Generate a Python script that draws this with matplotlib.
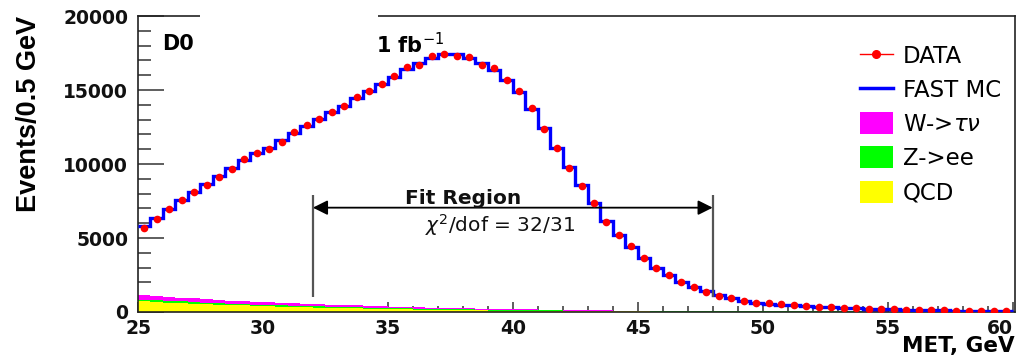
import numpy as np
import matplotlib
matplotlib.use('Agg')
import matplotlib.pyplot as plt
from matplotlib.lines import Line2D
from matplotlib.patches import Patch, Rectangle

# bin edges, MET in GeV, 0.5 GeV bins
edges = np.arange(25.0, 60.01, 0.5)
centers = edges[:-1] + 0.25

data = [5700, 6300, 6980, 7590, 8140, 8610, 9150, 9630, 10370, 10710,
        10980, 11520, 12140, 12610, 13020, 13490, 13900, 14510, 14920, 15390,
        15930, 16540, 16680, 17290, 17420, 17290, 17220, 16680, 16480, 15660,
        14920, 13760, 12340, 11050, 9760, 8540, 7390, 6100, 5220, 4470,
        3660, 2980, 2510, 2030, 1690, 1360, 1080, 950, 750, 640,
        580, 520, 440, 400, 360, 320, 290, 250, 210, 190,
        170, 150, 130, 120, 110, 100, 90, 80, 70, 60]

fast_mc = [5800, 6350, 6950, 7550, 8100, 8650, 9200, 9700, 10250, 10750,
           11100, 11600, 12100, 12600, 13050, 13500, 13950, 14450, 14900, 15400,
           15900, 16400, 16800, 17150, 17400, 17400, 17150, 16800, 16350, 15700,
           14850, 13750, 12450, 11100, 9800, 8550, 7350, 6150, 5200, 4400,
           3650, 3000, 2500, 2050, 1700, 1400, 1120, 930, 760, 640,
           560, 500, 440, 390, 350, 310, 280, 250, 220, 190,
           170, 150, 135, 120, 110, 100, 90, 80, 70, 60]

qcd = [720, 680, 640, 600, 570, 540, 500, 470, 440, 410,
       380, 360, 340, 320, 300, 280, 260, 240, 225, 210,
       195, 180, 165, 150, 140, 130, 120, 110, 100, 90,
       80, 75, 70, 65, 60, 55, 50, 45, 40, 38,
       35, 33, 31, 29, 27, 25, 24, 23, 22, 21,
       20, 19, 18, 17, 16, 15, 14, 13, 12, 12,
       11, 11, 10, 10, 9, 9, 8, 8, 7, 7]

zee = [120, 115, 110, 110, 105, 100, 100, 95, 90, 90,
       85, 85, 80, 80, 75, 75, 70, 70, 65, 65,
       60, 60, 58, 56, 54, 52, 50, 48, 46, 44,
       42, 40, 40, 38, 38, 36, 36, 34, 34, 32,
       32, 30, 30, 30, 28, 28, 28, 26, 26, 26,
       25, 25, 24, 24, 23, 23, 22, 22, 21, 21,
       20, 20, 20, 19, 19, 18, 18, 18, 17, 17]

wtau = [280, 270, 260, 250, 240, 230, 220, 210, 200, 195,
        185, 175, 170, 160, 155, 145, 140, 130, 125, 120,
        110, 105, 100, 95, 90, 85, 80, 75, 70, 65,
        60, 55, 50, 45, 40, 36, 32, 28, 25, 22,
        20, 18, 16, 14, 12, 10, 9, 8, 7, 6,
        5, 5, 4, 4, 3, 3, 3, 2, 2, 2,
        2, 1, 1, 1, 1, 1, 1, 1, 1, 1]

fit_lo, fit_hi = 32.0, 48.0
fit_arrow_y = 7050
fit_line_lo, fit_line_hi = 1000, 7900

plt.rcParams['font.family'] = ['DejaVu Sans']

fig = plt.figure(figsize=(10.2, 3.63), dpi=100)
ax = fig.add_axes([0.1353, 0.1405, 0.9951 - 0.1353, 0.9559 - 0.1405])

# stacked backgrounds
qcd = np.array(qcd, dtype=float)
zee = np.array(zee, dtype=float)
wtau = np.array(wtau, dtype=float)
ax.stairs(qcd, edges, baseline=0, fill=True, color='#ffff00', zorder=2)
ax.stairs(qcd + zee, edges, baseline=qcd, fill=True, color='#00ff00', zorder=2)
ax.stairs(qcd + zee + wtau, edges, baseline=qcd + zee, fill=True, color='#ff00ff', zorder=2)

# fast MC and data
ax.stairs(fast_mc, edges, baseline=None, color='#0000ff', lw=2.4, zorder=3)
ax.plot(centers, data, 'o', color='#ff0000', ms=5.5, mec='none', zorder=4)

# fit region
ax.vlines([fit_lo, fit_hi], fit_line_lo, fit_line_hi, color='#555555', lw=1.6, zorder=3)
ax.annotate('', xy=(fit_lo, fit_arrow_y), xytext=(fit_hi, fit_arrow_y),
            arrowprops=dict(arrowstyle='<|-|>', color='black', lw=1.3,
                            mutation_scale=22, shrinkA=0, shrinkB=0), zorder=3)
ax.text(38.0, 7700, 'Fit Region', fontsize=14.5, fontweight='bold',
        ha='center', va='center', color='#111111')
ax.text(39.5, 5850, r'$\chi^2$/dof = 32/31', fontsize=14.5,
        ha='center', va='center', color='#111111')

ax.set_xlim(25, 60.1)
ax.set_ylim(0, 20000)
ax.set_xticks([25, 30, 35, 40, 45, 50, 55, 60])
ax.set_xticks(np.arange(25, 61, 1), minor=True)
ax.set_yticks([0, 5000, 10000, 15000, 20000])
ax.set_yticks(np.arange(0, 20001, 1000), minor=True)
ax.tick_params(axis='both', which='both', direction='in', colors='#333333', width=1.1,
               labelcolor='#111111')
ax.tick_params(axis='y', which='major', length=19, pad=7, labelsize=13.5)
ax.tick_params(axis='y', which='minor', length=9.5)
ax.tick_params(axis='x', which='major', length=7, pad=5, labelsize=13.5)
ax.tick_params(axis='x', which='minor', length=4)
for lab in ax.get_xticklabels() + ax.get_yticklabels():
    lab.set_fontweight('bold')
ax.get_xticklabels()[-1].set_ha('right')
for sp in ax.spines.values():
    sp.set_color('#222222')
    sp.set_linewidth(1.2)

ax.set_ylabel('Events/0.5 GeV', fontsize=19.5, fontweight='bold',
              family='Liberation Sans')
ax.yaxis.set_label_coords(-0.109, 0.67)
ax.set_xlabel('MET, GeV', fontsize=15.5, fontweight='bold')
ax.xaxis.set_label_coords(1.0, -0.115)
ax.xaxis.label.set_ha('right')
ax.xaxis.label.set_va('center')

# label box in the upper left
ax.add_patch(Rectangle((0.0707, 0.834), 0.203, 0.2, transform=ax.transAxes,
                       facecolor='white', edgecolor='none', clip_on=False, zorder=5))
ax.text(0.028, 0.905, 'D0', transform=ax.transAxes, fontsize=15,
        fontweight='bold', va='center', ha='left', zorder=6)
ax.text(0.271, 0.905, r'1 fb$^{-1}$', transform=ax.transAxes, fontsize=15,
        fontweight='bold', va='center', ha='left', zorder=6)

handles = [Line2D([0], [0], color='#ff0000', lw=1, marker='o', ms=5.5),
           Line2D([0], [0], color='#0000ff', lw=2.5),
           Patch(facecolor='#ff00ff'),
           Patch(facecolor='#00ff00'),
           Patch(facecolor='#ffff00')]
labels = ['DATA', 'FAST MC', r'W->$\tau\nu$', 'Z->ee', 'QCD']
ax.legend(handles, labels, loc='upper left', bbox_to_anchor=(0.823, 0.905),
          frameon=False, fontsize=16.5, handlelength=1.45, handleheight=1.1,
          handletextpad=0.43, labelspacing=0.45, borderpad=0, borderaxespad=0)

fig.savefig('out.png', dpi=100)
